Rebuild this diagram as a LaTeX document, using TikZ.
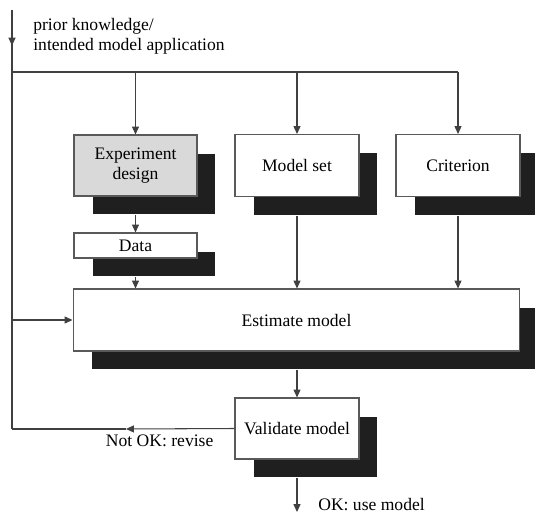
\documentclass[tikz,border=0pt]{standalone}
\usepackage{fontspec}
\setmainfont{Liberation Serif}
\usetikzlibrary{arrows.meta,shadows,decorations.markings,positioning}

\tikzset{
  blk/.style={draw=black!65, fill=white, line width=0.6pt, inner sep=2pt, align=center,
    drop shadow={shadow xshift=0.37cm, shadow yshift=-0.37cm, opacity=1, fill=black!88}},
  wire/.style={draw=black!75, line width=0.6pt},
  arr/.style={wire, -{Triangle[length=4.5pt,width=4pt]}},
  fromblk/.style={shorten <=0.37cm},
  midarr/.style={postaction={decorate}, decoration={markings,
    mark=at position #1 with {\arrow{Triangle[length=4.5pt,width=4pt]}}}},
}

\begin{document}
\begin{tikzpicture}[x=0.02cm,y=-0.02cm,font=\rmfamily\fontsize{10}{11.5}\selectfont]
\clip (0,0) rectangle (535,514);

% blocks
\node[blk, fill=black!15, minimum width=2.46cm, minimum height=1.22cm] (design) at (135.5,165.5) {Experiment\\design};
\node[blk, minimum width=2.48cm, minimum height=1.24cm] (modset) at (297,165.5) {Model set};
\node[blk, minimum width=2.48cm, minimum height=1.24cm] (crit) at (458,165.5) {Criterion};
\node[blk, minimum width=2.46cm, minimum height=0.5cm] (data) at (135.5,245.5) {Data};
\node[blk, minimum width=8.94cm, minimum height=1.24cm] (est) at (296.5,320) {Estimate model};
\node[blk, minimum width=2.48cm, minimum height=1.22cm] (valid) at (297,428.5) {Validate model};

% texts
\node[anchor=west, align=left, inner sep=0pt] (prior) at (33,36) {prior knowledge/\\intended model application};
\node[anchor=west, inner sep=0pt] (ok) at (318,505) {OK: use model};

% connectors
\coordinate (top) at (12,10);
\coordinate (bus) at (12,72);
\coordinate (back) at (12,429);
\coordinate (turn) at (126,429);
\coordinate (done) at (297,512);

\draw[wire, midarr=0.085] (top) -- (back);
\draw[wire] (bus) -- (bus -| crit.north);
\draw[arr] (bus -| design.north) -- (design.north);
\draw[arr] (bus -| modset.north) -- (modset.north);
\draw[arr] (bus -| crit.north) -- (crit.north);
\draw[arr, fromblk] (design) -- (data);
\draw[arr, fromblk] (data) -- (data |- est.north);
\draw[arr, fromblk] (modset) -- (modset |- est.north);
\draw[arr, fromblk] (crit) -- (crit |- est.north);
\draw[arr] (top |- est.west) -- (est.west);
\draw[arr, fromblk] (valid |- est.south) -- (valid.north);
\draw[arr] (valid.west) -- node[pos=0.69, below, inner sep=3pt] (notok) {Not OK: revise} (turn);
\draw[wire] (turn) -- (back);
\draw[arr, fromblk] (valid) -- (done);
\end{tikzpicture}
\end{document}
